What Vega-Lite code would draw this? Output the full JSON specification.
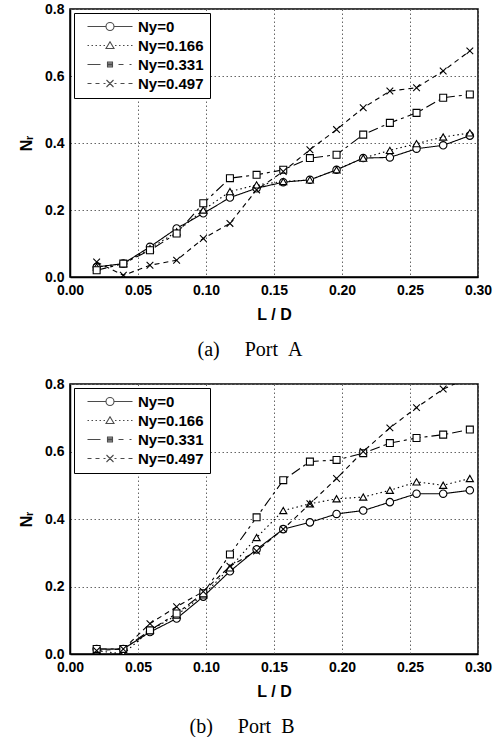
{
  "$schema": "https://vega.github.io/schema/vega-lite/v6.json",
  "padding": {"left": 17, "top": 1, "right": 2, "bottom": 4},
  "background": "white",
  "datasets": {
    "pts": [
      {"p":"A","s":"Ny=0","x":0.0196,"y":0.03},{"p":"A","s":"Ny=0","x":0.0392,"y":0.04},{"p":"A","s":"Ny=0","x":0.0588,"y":0.09},{"p":"A","s":"Ny=0","x":0.0784,"y":0.145},{"p":"A","s":"Ny=0","x":0.098,"y":0.19},{"p":"A","s":"Ny=0","x":0.1176,"y":0.237},{"p":"A","s":"Ny=0","x":0.1372,"y":0.265},{"p":"A","s":"Ny=0","x":0.1568,"y":0.283},{"p":"A","s":"Ny=0","x":0.1764,"y":0.29},{"p":"A","s":"Ny=0","x":0.196,"y":0.32},{"p":"A","s":"Ny=0","x":0.2156,"y":0.355},{"p":"A","s":"Ny=0","x":0.2352,"y":0.357},{"p":"A","s":"Ny=0","x":0.2548,"y":0.383},{"p":"A","s":"Ny=0","x":0.2744,"y":0.393},{"p":"A","s":"Ny=0","x":0.294,"y":0.422},
      {"p":"A","s":"Ny=0.166","x":0.0196,"y":0.03},{"p":"A","s":"Ny=0.166","x":0.0392,"y":0.04},{"p":"A","s":"Ny=0.166","x":0.0588,"y":0.085},{"p":"A","s":"Ny=0.166","x":0.0784,"y":0.135},{"p":"A","s":"Ny=0.166","x":0.098,"y":0.2},{"p":"A","s":"Ny=0.166","x":0.1176,"y":0.255},{"p":"A","s":"Ny=0.166","x":0.1372,"y":0.275},{"p":"A","s":"Ny=0.166","x":0.1568,"y":0.285},{"p":"A","s":"Ny=0.166","x":0.1764,"y":0.29},{"p":"A","s":"Ny=0.166","x":0.196,"y":0.32},{"p":"A","s":"Ny=0.166","x":0.2156,"y":0.355},{"p":"A","s":"Ny=0.166","x":0.2352,"y":0.378},{"p":"A","s":"Ny=0.166","x":0.2548,"y":0.398},{"p":"A","s":"Ny=0.166","x":0.2744,"y":0.418},{"p":"A","s":"Ny=0.166","x":0.294,"y":0.43},
      {"p":"A","s":"Ny=0.331","x":0.0196,"y":0.02},{"p":"A","s":"Ny=0.331","x":0.0392,"y":0.04},{"p":"A","s":"Ny=0.331","x":0.0588,"y":0.08},{"p":"A","s":"Ny=0.331","x":0.0784,"y":0.13},{"p":"A","s":"Ny=0.331","x":0.098,"y":0.22},{"p":"A","s":"Ny=0.331","x":0.1176,"y":0.295},{"p":"A","s":"Ny=0.331","x":0.1372,"y":0.305},{"p":"A","s":"Ny=0.331","x":0.1568,"y":0.32},{"p":"A","s":"Ny=0.331","x":0.1764,"y":0.355},{"p":"A","s":"Ny=0.331","x":0.196,"y":0.365},{"p":"A","s":"Ny=0.331","x":0.2156,"y":0.425},{"p":"A","s":"Ny=0.331","x":0.2352,"y":0.46},{"p":"A","s":"Ny=0.331","x":0.2548,"y":0.49},{"p":"A","s":"Ny=0.331","x":0.2744,"y":0.535},{"p":"A","s":"Ny=0.331","x":0.294,"y":0.545},
      {"p":"A","s":"Ny=0.497","x":0.0196,"y":0.045},{"p":"A","s":"Ny=0.497","x":0.0392,"y":0.005},{"p":"A","s":"Ny=0.497","x":0.0588,"y":0.035},{"p":"A","s":"Ny=0.497","x":0.0784,"y":0.05},{"p":"A","s":"Ny=0.497","x":0.098,"y":0.115},{"p":"A","s":"Ny=0.497","x":0.1176,"y":0.16},{"p":"A","s":"Ny=0.497","x":0.1372,"y":0.26},{"p":"A","s":"Ny=0.497","x":0.1568,"y":0.315},{"p":"A","s":"Ny=0.497","x":0.1764,"y":0.38},{"p":"A","s":"Ny=0.497","x":0.196,"y":0.44},{"p":"A","s":"Ny=0.497","x":0.2156,"y":0.505},{"p":"A","s":"Ny=0.497","x":0.2352,"y":0.555},{"p":"A","s":"Ny=0.497","x":0.2548,"y":0.565},{"p":"A","s":"Ny=0.497","x":0.2744,"y":0.615},{"p":"A","s":"Ny=0.497","x":0.294,"y":0.675},
      {"p":"B","s":"Ny=0","x":0.0196,"y":0.015},{"p":"B","s":"Ny=0","x":0.0392,"y":0.015},{"p":"B","s":"Ny=0","x":0.0588,"y":0.065},{"p":"B","s":"Ny=0","x":0.0784,"y":0.105},{"p":"B","s":"Ny=0","x":0.098,"y":0.17},{"p":"B","s":"Ny=0","x":0.1176,"y":0.245},{"p":"B","s":"Ny=0","x":0.1372,"y":0.31},{"p":"B","s":"Ny=0","x":0.1568,"y":0.37},{"p":"B","s":"Ny=0","x":0.1764,"y":0.39},{"p":"B","s":"Ny=0","x":0.196,"y":0.415},{"p":"B","s":"Ny=0","x":0.2156,"y":0.425},{"p":"B","s":"Ny=0","x":0.2352,"y":0.45},{"p":"B","s":"Ny=0","x":0.2548,"y":0.475},{"p":"B","s":"Ny=0","x":0.2744,"y":0.475},{"p":"B","s":"Ny=0","x":0.294,"y":0.485},
      {"p":"B","s":"Ny=0.166","x":0.0196,"y":0.01},{"p":"B","s":"Ny=0.166","x":0.0392,"y":0.0},{"p":"B","s":"Ny=0.166","x":0.0588,"y":0.07},{"p":"B","s":"Ny=0.166","x":0.0784,"y":0.115},{"p":"B","s":"Ny=0.166","x":0.098,"y":0.175},{"p":"B","s":"Ny=0.166","x":0.1176,"y":0.255},{"p":"B","s":"Ny=0.166","x":0.1372,"y":0.345},{"p":"B","s":"Ny=0.166","x":0.1568,"y":0.425},{"p":"B","s":"Ny=0.166","x":0.1764,"y":0.445},{"p":"B","s":"Ny=0.166","x":0.196,"y":0.46},{"p":"B","s":"Ny=0.166","x":0.2156,"y":0.465},{"p":"B","s":"Ny=0.166","x":0.2352,"y":0.485},{"p":"B","s":"Ny=0.166","x":0.2548,"y":0.51},{"p":"B","s":"Ny=0.166","x":0.2744,"y":0.5},{"p":"B","s":"Ny=0.166","x":0.294,"y":0.52},
      {"p":"B","s":"Ny=0.331","x":0.0196,"y":0.015},{"p":"B","s":"Ny=0.331","x":0.0392,"y":0.015},{"p":"B","s":"Ny=0.331","x":0.0588,"y":0.07},{"p":"B","s":"Ny=0.331","x":0.0784,"y":0.12},{"p":"B","s":"Ny=0.331","x":0.098,"y":0.18},{"p":"B","s":"Ny=0.331","x":0.1176,"y":0.295},{"p":"B","s":"Ny=0.331","x":0.1372,"y":0.405},{"p":"B","s":"Ny=0.331","x":0.1568,"y":0.515},{"p":"B","s":"Ny=0.331","x":0.1764,"y":0.57},{"p":"B","s":"Ny=0.331","x":0.196,"y":0.575},{"p":"B","s":"Ny=0.331","x":0.2156,"y":0.595},{"p":"B","s":"Ny=0.331","x":0.2352,"y":0.625},{"p":"B","s":"Ny=0.331","x":0.2548,"y":0.64},{"p":"B","s":"Ny=0.331","x":0.2744,"y":0.65},{"p":"B","s":"Ny=0.331","x":0.294,"y":0.665},
      {"p":"B","s":"Ny=0.497","x":0.0196,"y":0.01},{"p":"B","s":"Ny=0.497","x":0.0392,"y":0.015},{"p":"B","s":"Ny=0.497","x":0.0588,"y":0.09},{"p":"B","s":"Ny=0.497","x":0.0784,"y":0.14},{"p":"B","s":"Ny=0.497","x":0.098,"y":0.185},{"p":"B","s":"Ny=0.497","x":0.1176,"y":0.26},{"p":"B","s":"Ny=0.497","x":0.1372,"y":0.305},{"p":"B","s":"Ny=0.497","x":0.1568,"y":0.37},{"p":"B","s":"Ny=0.497","x":0.1764,"y":0.445},{"p":"B","s":"Ny=0.497","x":0.196,"y":0.52},{"p":"B","s":"Ny=0.497","x":0.2156,"y":0.6},{"p":"B","s":"Ny=0.497","x":0.2352,"y":0.67},{"p":"B","s":"Ny=0.497","x":0.2548,"y":0.73},{"p":"B","s":"Ny=0.497","x":0.2744,"y":0.785},{"p":"B","s":"Ny=0.497","x":0.294,"y":0.82}
    ]
  },
  "data": {"name": "pts"},
  "spacing": 15,
  "resolve": {"legend": {"shape": "independent"}},
  "vconcat": [
    {
      "width": 408,
      "height": 268,
      "title": {"text": "(a)\u2003 Port\u2002A", "orient": "bottom", "font": "Liberation Serif", "fontSize": 20, "fontWeight": "normal", "color": "black", "offset": 18, "dx": -24},
      "transform": [{"filter": "datum.p === 'A'"}],
      "encoding": {
        "x": {"field": "x", "type": "quantitative", "scale": {"domain": [0, 0.3], "nice": false, "zero": false}, "axis": {"values": [0, 0.05, 0.1, 0.15, 0.2, 0.25, 0.3], "format": ".2f", "title": "L / D"}},
        "y": {"field": "y", "type": "quantitative", "scale": {"domain": [0, 0.8], "nice": false}, "axis": {"values": [0, 0.2, 0.4, 0.6, 0.8], "format": ".1f", "title": "Nᵣ"}}
      },
      "resolve": {"scale": {"shape": "independent"}, "legend": {"shape": "independent"}},
      "layer": [
        {
          "mark": {"type": "line", "stroke": "black", "strokeWidth": 1.1, "clip": true},
          "encoding": {"strokeDash": {"field": "s", "type": "nominal", "scale": {"domain": ["Ny=0", "Ny=0.166", "Ny=0.331", "Ny=0.497"], "range": [[1, 0], [1.5, 3], [10, 4, 3, 4], [5, 4]]}, "legend": null}}
        },
        {
          "mark": {"type": "point", "fill": "white", "stroke": "black", "strokeWidth": 1.1, "opacity": 1, "fillOpacity": 1, "clip": true},
          "encoding": {
            "shape": {"field": "s", "type": "nominal", "scale": {"domain": ["Ny=0", "Ny=0.166", "Ny=0.331", "Ny=0.497"], "range": ["circle", "triangle-up", "square", "M-1,-1L1,1M-1,1L1,-1"]}, "legend": null},
            "size": {"field": "s", "type": "nominal", "scale": {"domain": ["Ny=0", "Ny=0.166", "Ny=0.331", "Ny=0.497"], "range": [55, 45, 22, 70]}, "legend": null}
          }
        },
        {
          "transform": [{"filter": "false"}],
          "mark": {"type": "point", "color": "black", "strokeWidth": 1.1},
          "encoding": {
            "shape": {"field": "s", "type": "nominal", "scale": {"domain": ["Ny=0", "Ny=0.166", "Ny=0.331", "Ny=0.497"], "range": [
              "M0,0L3.7,0M5.3,0L9,0M5.3,0A0.8,0.8,0,1,0,3.7,0A0.8,0.8,0,1,0,5.3,0",
              "M0,0L0.3,0M0.8,0L1.1,0M1.6,0L1.9,0M2.4,0L2.7,0M3.2,0L3.5,0M4.5,-0.75L5.3,0.6L3.7,0.6ZM5.5,0L5.8,0M6.3,0L6.6,0M7.1,0L7.4,0M7.9,0L8.2,0M8.7,0L9,0",
              "M0,0L2.6,0M4,-0.5L5,-0.5L5,0.5L4,0.5ZM4,-0.25L5,-0.25M4,0L5,0M4,0.25L5,0.25M6.2,0L7.2,0M8.4,0L8.8,0",
              "M0,0L0.8,0M1.6,0L2.4,0M3.2,0L3.6,0M3.8,-0.7L5.2,0.7M3.8,0.7L5.2,-0.7M5.4,0L5.8,0M6.6,0L7.4,0M8.2,0L9,0"
            ]},
              "legend": {"orient": "top-left", "offset": 4, "title": null, "padding": 6, "strokeColor": "black", "fillColor": "white", "labelFont": "Liberation Sans", "labelFontSize": 15, "labelFontWeight": "bold", "labelColor": "black", "symbolSize": 100, "labelOffset": 43, "rowPadding": 3, "symbolStrokeWidth": 1.1, "symbolStrokeColor": "black"}}
          }
        }
      ]
    },
    {
      "width": 408,
      "height": 270,
      "title": {"text": "(b)\u2003 Port\u2002B", "orient": "bottom", "font": "Liberation Serif", "fontSize": 20, "fontWeight": "normal", "color": "black", "offset": 18, "dx": -32},
      "transform": [{"filter": "datum.p === 'B'"}],
      "encoding": {
        "x": {"field": "x", "type": "quantitative", "scale": {"domain": [0, 0.3], "nice": false, "zero": false}, "axis": {"values": [0, 0.05, 0.1, 0.15, 0.2, 0.25, 0.3], "format": ".2f", "title": "L / D"}},
        "y": {"field": "y", "type": "quantitative", "scale": {"domain": [0, 0.8], "nice": false}, "axis": {"values": [0, 0.2, 0.4, 0.6, 0.8], "format": ".1f", "title": "Nᵣ"}}
      },
      "resolve": {"scale": {"shape": "independent"}, "legend": {"shape": "independent"}},
      "layer": [
        {
          "mark": {"type": "line", "stroke": "black", "strokeWidth": 1.1, "clip": true},
          "encoding": {"strokeDash": {"field": "s", "type": "nominal", "scale": {"domain": ["Ny=0", "Ny=0.166", "Ny=0.331", "Ny=0.497"], "range": [[1, 0], [1.5, 3], [10, 4, 3, 4], [5, 4]]}, "legend": null}}
        },
        {
          "mark": {"type": "point", "fill": "white", "stroke": "black", "strokeWidth": 1.1, "opacity": 1, "fillOpacity": 1, "clip": true},
          "encoding": {
            "shape": {"field": "s", "type": "nominal", "scale": {"domain": ["Ny=0", "Ny=0.166", "Ny=0.331", "Ny=0.497"], "range": ["circle", "triangle-up", "square", "M-1,-1L1,1M-1,1L1,-1"]}, "legend": null},
            "size": {"field": "s", "type": "nominal", "scale": {"domain": ["Ny=0", "Ny=0.166", "Ny=0.331", "Ny=0.497"], "range": [55, 45, 22, 70]}, "legend": null}
          }
        },
        {
          "transform": [{"filter": "false"}],
          "mark": {"type": "point", "color": "black", "strokeWidth": 1.1},
          "encoding": {
            "shape": {"field": "s", "type": "nominal", "scale": {"domain": ["Ny=0", "Ny=0.166", "Ny=0.331", "Ny=0.497"], "range": [
              "M0,0L3.7,0M5.3,0L9,0M5.3,0A0.8,0.8,0,1,0,3.7,0A0.8,0.8,0,1,0,5.3,0",
              "M0,0L0.3,0M0.8,0L1.1,0M1.6,0L1.9,0M2.4,0L2.7,0M3.2,0L3.5,0M4.5,-0.75L5.3,0.6L3.7,0.6ZM5.5,0L5.8,0M6.3,0L6.6,0M7.1,0L7.4,0M7.9,0L8.2,0M8.7,0L9,0",
              "M0,0L2.6,0M4,-0.5L5,-0.5L5,0.5L4,0.5ZM4,-0.25L5,-0.25M4,0L5,0M4,0.25L5,0.25M6.2,0L7.2,0M8.4,0L8.8,0",
              "M0,0L0.8,0M1.6,0L2.4,0M3.2,0L3.6,0M3.8,-0.7L5.2,0.7M3.8,0.7L5.2,-0.7M5.4,0L5.8,0M6.6,0L7.4,0M8.2,0L9,0"
            ]},
              "legend": {"orient": "top-left", "offset": 4, "title": null, "padding": 6, "strokeColor": "black", "fillColor": "white", "labelFont": "Liberation Sans", "labelFontSize": 15, "labelFontWeight": "bold", "labelColor": "black", "symbolSize": 100, "labelOffset": 43, "rowPadding": 3, "symbolStrokeWidth": 1.1, "symbolStrokeColor": "black"}}
          }
        }
      ]
    }
  ],
  "config": {
    "view": {"stroke": "black", "strokeWidth": 1.5},
    "axis": {
      "grid": true, "gridDash": [1.5, 2.5], "gridColor": "#666", "gridWidth": 1,
      "ticks": false, "domainColor": "black", "domainWidth": 1.5,
      "labelFont": "Liberation Sans", "labelFontSize": 14, "labelFontWeight": "bold", "labelColor": "black", "labelFlush": false,
      "titleFont": "Liberation Sans", "titleFontSize": 16, "titleFontWeight": "bold", "titleColor": "black"
    },
    "axisX": {"labelPadding": 6, "titlePadding": 9},
    "axisY": {"labelPadding": 6, "titlePadding": 10}
  }
}
